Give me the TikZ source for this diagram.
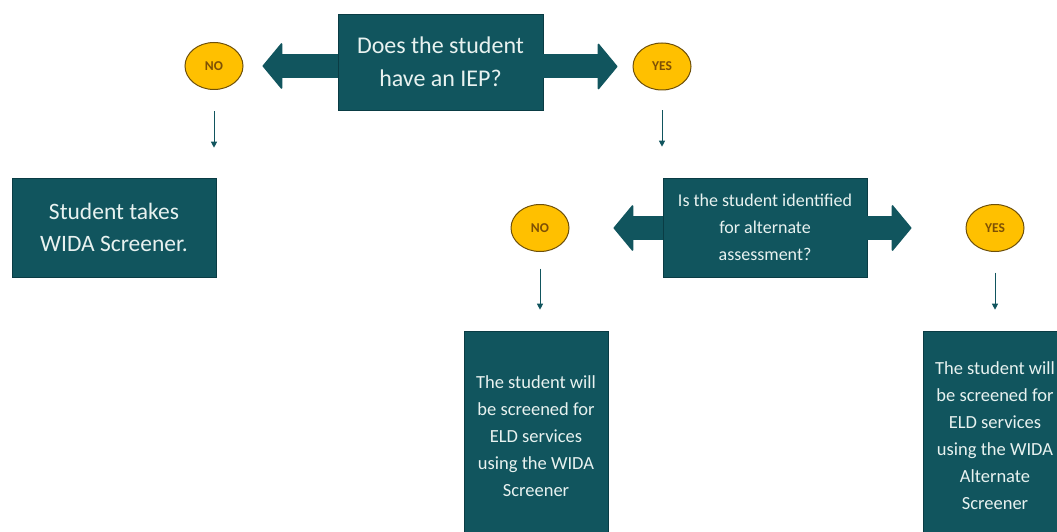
\documentclass[tikz,border=0pt]{standalone}
\usepackage{fontspec}
\setmainfont{Carlito}
\usepackage{tikz}
\usetikzlibrary{shapes.geometric, arrows.meta}
\usepackage{xcolor}
\definecolor{boxteal}{RGB}{17,85,94}
\definecolor{boxedge}{RGB}{10,60,68}
\definecolor{gold}{RGB}{255,192,0}
\definecolor{goldedge}{RGB}{110,80,10}
\definecolor{goldtext}{RGB}{125,80,5}
\definecolor{paletext}{RGB}{232,242,240}

\begin{document}
\begin{tikzpicture}[x=1pt, y=-1pt,
		box/.style={rectangle, fill=boxteal, draw=boxedge, line width=0.6pt, text=paletext, align=center, inner sep=0pt},
		answer/.style={ellipse, fill=gold, draw=goldedge, line width=1pt, minimum width=58pt, minimum height=47pt, inner sep=0pt, text=goldtext, font=\fontsize{13.5}{14}\selectfont\bfseries},
		blockarrow/.style={draw=boxteal, line width=24pt, -{Triangle[length=20pt, width=48pt, line width=1.5pt, round]}},
		thinarrow/.style={draw=boxteal, line width=1pt, -{Triangle[length=6pt, width=6pt]}}]
			% Frame
			\useasboundingbox (0,0) rectangle (1057,532);
			% Questions
			\node[box, minimum width=205pt, minimum height=96pt, font=\fontsize{24}{33}\selectfont] (iep) at (440.5,62) {Does the student\\have an IEP?};
			\node[box, minimum width=204pt, minimum height=99pt, font=\fontsize{18}{27}\selectfont] (alt) at (765,227.5) {Is the student identified\\for alternate\\assessment?};
			% Answers
			\node[answer] (no1) at (214,66) {NO};
			\node[answer] (yes1) at (662,66.5) {YES};
			\node[answer] (no2) at (540,228) {NO};
			\node[answer] (yes2) at (995,228) {YES};
			% Results
			\node[box, minimum width=204pt, minimum height=99pt, font=\fontsize{23.5}{32}\selectfont] (takes) at (114,227.5) {Student takes\\WIDA Screener.};
			\node[box, minimum width=144pt, minimum height=210pt, font=\fontsize{18.5}{27}\selectfont] (eld) at (536,436) {The student will\\be screened for\\ELD services\\using the WIDA\\Screener};
			\node[box, minimum width=144pt, minimum height=210pt, font=\fontsize{18.5}{27}\selectfont] (eldalt) at (995,436) {The student will\\be screened for\\ELD services\\using the WIDA\\Alternate\\Screener};
			% Block arrows
			\draw[blockarrow, shorten >=19pt] (iep.west |- no1) -- (no1.east);
			\draw[blockarrow, shorten >=15pt] (iep.east |- yes1) -- (yes1.west);
			\draw[blockarrow, shorten >=44pt] (alt.west |- no2) -- (no2.east);
			\draw[blockarrow, shorten >=54pt] (alt.east |- yes2) -- (yes2.west);
			% Down arrows
			\draw[thinarrow, shorten <=21.5pt, shorten >=30pt] (no1.south) -- (no1.south |- takes.north);
			\draw[thinarrow, shorten <=20pt, shorten >=31pt] (yes1.south) -- (yes1.south |- alt.north);
			\draw[thinarrow, shorten <=16.5pt, shorten >=21pt] (no2.south) -- (no2.south |- eld.north);
			\draw[thinarrow, shorten <=20.5pt, shorten >=21pt] (yes2.south) -- (yes2.south |- eldalt.north);
		\end{tikzpicture}
\end{document}
